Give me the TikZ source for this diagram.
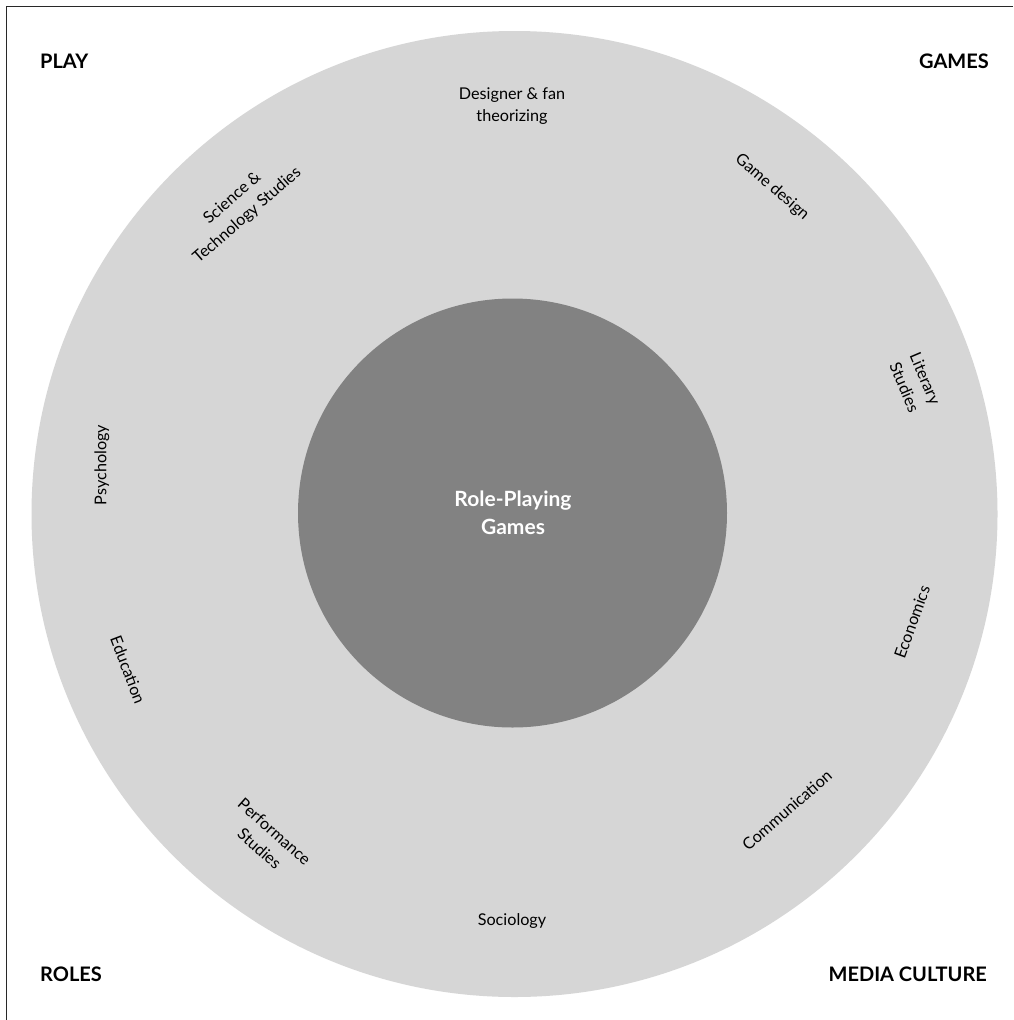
\documentclass[tikz,border=0pt]{standalone}
\usepackage{fontspec}
\setmainfont{Lato}
\definecolor{outerfill}{RGB}{214,214,214}
\definecolor{innerfill}{RGB}{130,130,130}
\definecolor{framecol}{RGB}{40,40,40}
\begin{document}
\begin{tikzpicture}[x=1pt,y=-1pt,
  field/.style={font=\fontsize{16.2}{22.5}\selectfont, align=center, inner sep=0pt, text=black},
  corner/.style={font=\fontsize{20}{24}\selectfont\bfseries, inner sep=0pt, text=black},
  core/.style={font=\fontsize{21}{28}\selectfont\bfseries, align=center, inner sep=0pt, text=white}]
\useasboundingbox (0,0) rectangle (1013,1020);
\fill[white] (0,0) rectangle (1013,1020);
\coordinate (frameTR) at (1013,6.5);
\coordinate (frameTL) at (6.5,6.5);
\coordinate (frameBL) at (6.5,1020);
\draw[framecol, line width=1.5pt] (frameTR) -- (frameTL) -- (frameBL);
\fill[outerfill] (514.5,514) circle (483);
\fill[innerfill] (512.5,513) circle (214.5);
\node[core] (rpg) at (513,513) {Role-Playing\\Games};
\node[corner, anchor=west] (play) at (40,61) {PLAY};
\node[corner, anchor=east] (games) at (989,61) {GAMES};
\node[corner, anchor=west] (roles) at (40,974) {ROLES};
\node[corner, anchor=east] (media) at (987,974) {MEDIA CULTURE};
\node[field] (dft) at (512,106) {Designer \& fan\\theorizing};
\node[field, rotate=41] (sts) at (240,207) {Science \&\\Technology Studies};
\node[field, rotate=-41] (gd) at (772,187) {Game design};
\node[field, rotate=-67] (lit) at (915,383) {Literary\\Studies};
\node[field, rotate=90] (psy) at (102,465) {Psychology};
\node[field, rotate=-69] (edu) at (128,670) {Education};
\node[field, rotate=-41.5] (perf) at (267,840) {Performance\\Studies};
\node[field] (soc) at (512,921) {Sociology};
\node[field, rotate=41] (comm) at (787,810) {Communication};
\node[field, rotate=70] (econ) at (912,622) {Economics};
\end{tikzpicture}
\end{document}
